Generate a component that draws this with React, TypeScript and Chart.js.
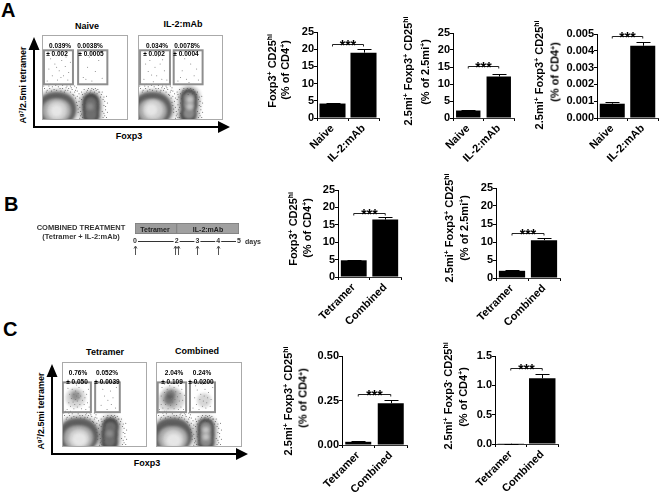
import React, { useEffect, useRef } from "react";
import { Chart, registerables } from "chart.js";

Chart.register(...registerables);

const FONT = '"Liberation Sans", Arial, sans-serif';

// ---------- bar chart data ----------
const naiveGroups = ["Naive", "IL-2:mAb"];
const tetramerGroups = ["Tetramer", "Combined"];

const foxp3Cd4Values = [4.2, 19];
const foxp3Cd4Errors = [0.2, 1];
const tetFoxp3PctTetValues = [2.2, 12.2];
const tetFoxp3PctTetErrors = [0.2, 0.7];
const tetFoxp3PctCd4Values = [0.00085, 0.0043];
const tetFoxp3PctCd4Errors = [0.0001, 0.00025];
const combFoxp3Values = [4.8, 16.5];
const combFoxp3Errors = [0.15, 0.6];
const combTetValues = [2, 10.5];
const combTetErrors = [0.2, 0.5];
const combTetCd4Values = [0.018, 0.235];
const combTetCd4Errors = [0.002, 0.018];
const combTetNegValues = [0.005, 1.12];
const combTetNegErrors = [0.002, 0.08];

// ---------- timeline data ----------
const tetramerPhase = [0, 2];
const il2Phase = [2, 5];
const timelineDays = [0, 2, 3, 4, 5];
const doseDays = [0, 1.92, 2.08, 3, 4];

// ---------- flow plot data (percent of the plot's box) ----------
const lowSpeckle = [
  [3, 37], [8, 40], [14, 36], [19, 39], [24, 37], [29, 40], [35, 36], [38, 33], [41, 28], [43, 22], [44, 15], [42, 9],
  [45, 5], [41, 34], [47, 30], [49, 36], [52, 33], [57, 35], [61, 33], [65, 36], [69, 30], [71, 24], [72, 17], [70, 10],
  [73, 5], [75, 28], [46, 24], [48, 12], [6, 35], [11, 34], [22, 34], [27, 35], [33, 33], [54, 37], [59, 30], [67, 33],
  [40, 38], [31, 37], [16, 41], [36, 30], [43, 31], [74, 12], [76, 20], [47, 18], [45, 10], [2, 40], [62, 37], [55, 31],
  [5, 33], [9, 37], [12, 39], [17, 35], [21, 37], [26, 33], [30, 35], [34, 38], [37, 29], [39, 26], [40, 21], [41, 17],
  [42, 13], [39, 35], [44, 26], [46, 33], [48, 27], [50, 31], [51, 25], [50, 20], [49, 15], [50, 8], [47, 3], [44, 2],
  [53, 35], [56, 33], [60, 36], [63, 35], [66, 33], [68, 27], [70, 33], [72, 27], [73, 22], [74, 16], [72, 8], [71, 3],
  [38, 40], [24, 41], [10, 42], [28, 38], [33, 40], [64, 31], [58, 37], [4, 42], [76, 9], [75, 3], [49, 3], [46, 7],
];

const naiveLeftHalo = [[13, 13], [21, 13]];
const naiveLeftDark = [[13, 12], [20, 12]];
const naiveLeftMid = [[14, 11], [20, 11]];
const naiveLeftLight = [[16, 11], [19, 11]];
const naiveLeftCore = [[17, 11]];
const naiveRightDark = [[57, 22], [57, 14], [57, 5]];
const naiveRightMid = [[57, 20], [57, 13], [57, 6]];
const naiveRightCore = [[56, 16]];
const naiveGate1Events = [[8, 60], [12, 52], [15, 66], [18, 47], [20, 58], [23, 70], [25, 52], [27, 63], [30, 47], [31, 56], [10, 72], [22, 50], [17, 62], [6, 46], [33, 68], [28, 74]];
const naiveGate2Events = [[48, 50], [53, 62], [58, 46], [62, 57], [66, 70], [70, 49], [55, 74], [51, 48]];

const il2LeftHalo = [[13, 13], [21, 13]];
const il2LeftDark = [[13, 12], [20, 12]];
const il2LeftMid = [[14, 11], [20, 11]];
const il2LeftLight = [[16, 12], [19, 12]];
const il2LeftCore = [[16, 12]];
const il2RightDark = [[60, 27], [60, 18], [59, 6]];
const il2RightMid = [[60, 26], [60, 18], [60, 8]];
const il2RightCore = [[61, 24], [61, 16]];
const il2Gate1Events = [[7, 48], [12, 57], [14, 70], [18, 45], [20, 62], [22, 52], [26, 66], [28, 48], [31, 58], [9, 66], [24, 75], [16, 53], [34, 47], [29, 71]];
const il2Gate2Events = [[47, 46], [52, 58], [57, 48], [62, 66], [66, 52], [71, 47], [55, 72], [69, 60], [60, 44], [50, 50]];

const tetLeftHalo = [[15, 14], [24, 14]];
const tetLeftDark = [[15, 13], [23, 13]];
const tetLeftMid = [[16, 11], [23, 11]];
const tetLeftLight = [[18, 10], [22, 10]];
const tetLeftCore = [[19, 9], [22, 9]];
const tetRightDark = [[57, 25], [56, 15], [56, 5]];
const tetRightMid = [[57, 23], [56, 15], [56, 7]];
const tetRightCore = [[56, 16]];
const tetGate1Cloud = [[16, 58]];
const tetGate1Core = [[16, 60]];
const tetGate1Events = [
  [6, 44], [8, 52], [9, 62], [10, 48], [11, 57], [12, 68], [13, 53], [14, 45], [14, 62], [15, 50], [16, 56], [16, 66],
  [17, 60], [18, 47], [18, 54], [19, 63], [20, 58], [20, 70], [21, 50], [22, 60], [23, 45], [24, 55], [25, 65], [26, 50],
  [27, 58], [28, 44], [29, 62], [30, 52], [31, 68], [17, 73], [7, 69], [32, 47],
];
const tetGate2Events = [[46, 49], [50, 60], [53, 44], [54, 55], [57, 66], [58, 50], [60, 58], [63, 46], [64, 70], [48, 68]];

const combLeftHalo = [[15, 14], [23, 14]];
const combLeftDark = [[15, 13], [23, 13]];
const combLeftMid = [[16, 10], [23, 10]];
const combLeftLight = [[18, 9], [22, 9]];
const combLeftCore = [[19, 8], [22, 8]];
const combRightDark = [[58, 24], [58, 15], [58, 5]];
const combRightMid = [[58, 23], [58, 15], [58, 7]];
const combRightCore = [[58, 20], [58, 12]];
const combGate1Cloud = [[17, 60], [13, 54], [22, 56]];
const combGate1Core = [[17, 62], [15, 56]];
const combGate2Cloud = [[56, 55]];
const combGate1Events = [
  [4, 44], [6, 50], [6, 60], [7, 70], [8, 46], [9, 55], [10, 64], [10, 74], [11, 50], [12, 59], [13, 68], [14, 45],
  [14, 54], [15, 62], [16, 72], [17, 49], [18, 57], [18, 66], [19, 53], [20, 61], [21, 45], [21, 70], [22, 56], [23, 65],
  [24, 50], [25, 59], [26, 44], [26, 72], [27, 54], [28, 63], [29, 47], [30, 68], [31, 55], [32, 44], [33, 61], [12, 42],
];
const combGate2Events = [
  [43, 46], [45, 58], [47, 50], [48, 67], [50, 44], [51, 56], [52, 62], [54, 48], [55, 54], [56, 60], [57, 68], [58, 46],
  [59, 52], [60, 58], [61, 64], [63, 48], [64, 56], [66, 70], [46, 72], [54, 74],
];

const gatesA1 = [[2.3, 42, 36, 82], [42, 42, 76, 82]];
const gatesA2 = [[2.4, 42, 37.6, 82], [42, 42, 76, 82]];
const gatesC1 = [[1, 41, 34, 76], [39, 41, 68, 76]];
const gatesC2 = [[2, 41, 35, 76], [39.5, 41, 68.6, 76]];

type Pt = number[];

function useChart(make: () => any) {
  const ref = useRef<HTMLCanvasElement>(null);
  useEffect(() => {
    const c = new Chart(ref.current as HTMLCanvasElement, make());
    return () => c.destroy();
  }, []);
  return ref;
}

function BarPanel(p: {
  labels: string[]; values: number[]; errors: number[]; bracket: number; max: number; step: number; decimals: number;
  x0: number; x1: number; yTop: number; yBottom: number; barFrac: number;
}) {
  const leftPad = 46, topPad = 10, bottomH = 62, rightPad = 2;
  const ref = useChart(() => {
    const overlay = {
      id: "marks",
      afterDatasetsDraw(chart: any) {
        const { ctx, scales } = chart;
        const xs = scales.x, ys = scales.y;
        ctx.save();
        ctx.strokeStyle = "#000";
        ctx.lineWidth = 1;
        p.values.forEach((v, i) => {
          const cx = Math.round(xs.getPixelForValue(i)) + 0.5;
          const top = Math.round(ys.getPixelForValue(v + p.errors[i])) + 0.5;
          ctx.beginPath();
          ctx.moveTo(cx, ys.getPixelForValue(v));
          ctx.lineTo(cx, top);
          ctx.moveTo(cx - 7, top);
          ctx.lineTo(cx + 7, top);
          ctx.stroke();
        });
        const by = Math.round(ys.getPixelForValue(p.bracket)) + 0.5;
        const bx0 = xs.getPixelForValue(0), bx1 = xs.getPixelForValue(1);
        ctx.strokeStyle = "#222";
        ctx.beginPath();
        ctx.moveTo(bx0, by + 2);
        ctx.lineTo(bx0, by);
        ctx.lineTo(bx1, by);
        ctx.lineTo(bx1, by + 2);
        ctx.stroke();
        ctx.fillStyle = "#000";
        ctx.font = `bold 14px ${FONT}`;
        ctx.textAlign = "center";
        ctx.textBaseline = "alphabetic";
        ctx.fillText("***", (bx0 + bx1) / 2, by + 5);
        ctx.restore();
      },
    };
    const tickFont = { family: FONT, size: 11, weight: "bold" };
    const fixPad = (s: any) => { s.paddingLeft = 0; s.paddingRight = 0; s.paddingTop = 0; s.paddingBottom = 0; };
    return {
      type: "bar",
      data: {
        labels: p.labels,
        datasets: [{ data: p.values, backgroundColor: "#000", barPercentage: p.barFrac, categoryPercentage: 1 }],
      },
      options: {
        responsive: false,
        animation: false,
        devicePixelRatio: 1,
        layout: { padding: { top: topPad, right: rightPad, left: 0, bottom: 0 } },
        plugins: { legend: { display: false }, tooltip: { enabled: false } },
        scales: {
          x: {
            grid: { drawOnChartArea: false, drawTicks: true, tickLength: 3, color: "#000" },
            border: { color: "#333", width: 1 },
            ticks: { color: "#000", font: tickFont, minRotation: 45, maxRotation: 45, autoSkip: false, padding: 1 },
            afterFit(s: any) { s.height = bottomH; fixPad(s); },
          },
          y: {
            min: 0,
            max: p.max,
            grid: { drawOnChartArea: false, drawTicks: true, tickLength: 3, color: "#000" },
            border: { color: "#000", width: 1 },
            ticks: {
              color: "#000", font: tickFont, stepSize: p.step, padding: 0,
              callback: (v: number) => Number(v).toFixed(p.decimals),
            },
            afterFit(s: any) { s.width = leftPad; fixPad(s); },
          },
        },
      },
      plugins: [overlay],
    };
  });
  const w = leftPad + (p.x1 - p.x0) + rightPad;
  const h = topPad + (p.yBottom - p.yTop) + bottomH;
  return (
    <canvas ref={ref} width={w} height={h}
      style={{ position: "absolute", left: p.x0 - leftPad, top: p.yTop - topPad, width: w, height: h }} />
  );
}

function FlowPlot(p: {
  left: number; top: number; w: number; h: number; brightRight?: boolean;
  leftLayers: Pt[][]; rightLayers: Pt[][]; clouds: Pt[][]; events: Pt[]; gates: number[][];
}) {
  const ref = useChart(() => {
    const dot = (data: Pt[], r: number, c: string) => ({
      data, pointRadius: r, backgroundColor: c, borderWidth: 0, pointBorderWidth: 0, clip: 0,
    });
    const leftR = [6, 9, 12, 15, 16.5];
    const leftC = ["#e6e6e6", "#d0d0d0", "#a8a8a8", "#5c5c5c", "#6a6a6a"];
    const rightR = [3.5, 6, 8.5];
    const rightC = p.brightRight ? ["#c4c4c4", "#8a8a8a", "#444"] : ["#8c8c8c", "#6e6e6e", "#444"];
    const deco = {
      id: "deco",
      beforeDatasetDraw(chart: any, args: any) {
        // the single-event dots (datasets 0 and 1) stay sharp, the density layers are soft
        chart.ctx.filter = args.index < 2 ? "none" : "blur(1.5px)";
      },
      afterDatasetDraw(chart: any) { chart.ctx.filter = "none"; },
      afterDraw(chart: any) {
        const { ctx, scales } = chart;
        ctx.save();
        ctx.strokeStyle = "#aaaaaa";
        ctx.lineWidth = 1;
        ctx.strokeRect(0.5, 0.5, p.w - 1, p.h - 1);
        ctx.strokeStyle = "#8e8e8e";
        ctx.lineWidth = 2;
        p.gates.forEach((g) => {
          const x0 = scales.x.getPixelForValue(g[0]), x1 = scales.x.getPixelForValue(g[2]);
          const y0 = scales.y.getPixelForValue(g[3]), y1 = scales.y.getPixelForValue(g[1]);
          ctx.strokeRect(x0, y0, x1 - x0, y1 - y0);
        });
        ctx.restore();
      },
    };
    return {
      type: "scatter",
      data: {
        datasets: [
          dot(p.events, 0.5, "#777"),
          dot(lowSpeckle, 0.5, "#555"),
          dot(p.clouds[1] || [], 5, "rgba(60,60,60,0.45)"),
          dot(p.clouds[0] || [], 10, "rgba(120,120,120,0.3)"),
          dot(p.clouds[2] || [], 7, "rgba(120,120,120,0.3)"),
          ...p.rightLayers.map((d, i) => dot(d, rightR[i], rightC[i])),
          ...p.leftLayers.map((d, i) => dot(d, leftR[i], leftC[i])),
          dot(p.rightLayers[2], 12, "rgba(120,120,120,0.3)"),
          dot(p.leftLayers[4], 20, "rgba(120,120,120,0.3)"),
        ],
      },
      options: {
        responsive: false,
        animation: false,
        devicePixelRatio: 1,
        layout: { padding: 0, autoPadding: false },
        plugins: { legend: { display: false }, tooltip: { enabled: false } },
        scales: {
          x: { type: "linear", min: 0, max: 100, display: false },
          y: { type: "linear", min: 0, max: 100, display: false },
        },
      },
      plugins: [deco],
    };
  });
  return (
    <canvas ref={ref} width={p.w} height={p.h}
      style={{ position: "absolute", left: p.left, top: p.top, width: p.w, height: p.h }} />
  );
}

function Timeline() {
  const ref = useChart(() => {
    const deco = {
      id: "timeline",
      afterDatasetsDraw(chart: any) {
        const { ctx, scales, chartArea } = chart;
        const xs = scales.x;
        const ly = chartArea.bottom + 7.5;
        ctx.save();
        ctx.strokeStyle = "#333";
        ctx.lineWidth = 1;
        ctx.beginPath();
        ctx.moveTo(xs.getPixelForValue(0), ly);
        ctx.lineTo(xs.getPixelForValue(5), ly);
        ctx.stroke();
        ctx.font = `bold 7px ${FONT}`;
        ctx.textAlign = "center";
        ctx.textBaseline = "middle";
        timelineDays.forEach((d) => {
          const x = xs.getPixelForValue(d);
          ctx.fillStyle = "#fff";
          ctx.fillRect(x - 3, ly - 4, 6, 8);
          ctx.fillStyle = "#333";
          ctx.fillText(String(d), x, ly);
        });
        ctx.strokeStyle = "#555";
        doseDays.forEach((d) => {
          const x = Math.round(xs.getPixelForValue(d)) + 0.5;
          const t = chartArea.bottom + 12;
          ctx.beginPath();
          ctx.moveTo(x, t + 9);
          ctx.lineTo(x, t);
          ctx.moveTo(x - 1.5, t + 2.5);
          ctx.lineTo(x, t);
          ctx.lineTo(x + 1.5, t + 2.5);
          ctx.stroke();
        });
        ctx.restore();
      },
    };
    return {
      type: "bar",
      data: {
        labels: ["Treatment"],
        datasets: [
          { data: [tetramerPhase], backgroundColor: "#9c9c9c", borderColor: "#7d7d7d", borderWidth: 1, grouped: false, barPercentage: 1, categoryPercentage: 1, borderSkipped: false },
          { data: [il2Phase], backgroundColor: "#a0a0a0", borderColor: "#7d7d7d", borderWidth: 1, grouped: false, barPercentage: 1, categoryPercentage: 1, borderSkipped: false },
        ],
      },
      options: {
        indexAxis: "y",
        responsive: false,
        animation: false,
        devicePixelRatio: 1,
        layout: { padding: { left: 10, right: 11, top: 8, bottom: 26 } },
        plugins: { legend: { display: false }, tooltip: { enabled: false } },
        scales: {
          x: { type: "linear", min: 0, max: 5, display: false },
          y: { display: false },
        },
      },
      plugins: [deco],
    };
  });
  return <canvas ref={ref} width={125} height={45} style={{ position: "absolute", left: 125, top: 215, width: 125, height: 45 }} />;
}

const Txt = (p: { x: number; y: number; size?: number; color?: string; children: React.ReactNode; rot?: boolean; weight?: string }) => (
  <div style={{
    position: "absolute", left: p.x, top: p.y, whiteSpace: "nowrap", fontFamily: FONT, fontWeight: (p.weight || "bold") as any,
    fontSize: p.size || 11, color: p.color || "#000", lineHeight: 1,
    transform: `translate(-50%,-50%)${p.rot ? " rotate(-90deg)" : ""}`,
  }}>{p.children}</div>
);
const Sup = (p: { children: React.ReactNode }) => <sup style={{ fontSize: "0.62em", lineHeight: 0, verticalAlign: "0.5em" }}>{p.children}</sup>;
const Letter = (p: { x: number; y: number; children: string }) => (
  <div style={{ position: "absolute", left: p.x, top: p.y, transform: "translateY(-50%)", fontFamily: FONT, fontWeight: "bold", fontSize: 20, lineHeight: 1 }}>{p.children}</div>
);
const TetLine = (p: { neg?: boolean }) => <>2.5mi<Sup>+</Sup> Foxp3<Sup>{p.neg ? "-" : "+"}</Sup> CD25<Sup>hi</Sup></>;
const FoxLine = () => <>Foxp3<Sup>+</Sup> CD25<Sup>hi</Sup></>;
const Cd4Line = () => <>(% of CD4<Sup>+</Sup>)</>;
const TetPct = () => <>(% of 2.5mi<Sup>+</Sup>)</>;

export default function App() {
  return (
    <div style={{ position: "absolute", left: 0, top: 0, width: 660, height: 492, background: "#fff", overflow: "hidden", filter: "blur(0.3px)" }}>
      <Letter x={1} y={10}>A</Letter>
      <Letter x={4} y={204}>B</Letter>
      <Letter x={3} y={329}>C</Letter>

      {/* Panel A flow */}
      <FlowPlot left={42} top={35} w={86} h={85} gates={gatesA1}
        leftLayers={[naiveLeftCore, naiveLeftLight, naiveLeftMid, naiveLeftDark, naiveLeftHalo]}
        rightLayers={[naiveRightCore, naiveRightMid, naiveRightDark]} clouds={[]}
        events={[...naiveGate1Events, ...naiveGate2Events]} />
      <FlowPlot left={138} top={35} w={85} h={85} gates={gatesA2} brightRight
        leftLayers={[il2LeftCore, il2LeftLight, il2LeftMid, il2LeftDark, il2LeftHalo]}
        rightLayers={[il2RightCore, il2RightMid, il2RightDark]} clouds={[]}
        events={[...il2Gate1Events, ...il2Gate2Events]} />
      <Txt x={87} y={26} size={9}>Naive</Txt>
      <Txt x={183} y={24} size={9}>IL-2:mAb</Txt>
      <Txt x={129} y={136} size={9}>Foxp3</Txt>
      <Txt x={23} y={85} size={9} rot>A<Sup>g7</Sup>/2.5mi tetramer</Txt>
      <Txt x={60} y={46} size={6.5}>0.039%</Txt>
      <Txt x={57} y={54} size={6.5}>± 0.002</Txt>
      <Txt x={90} y={46} size={6.5}>0.0038%</Txt>
      <Txt x={91} y={54} size={6.5}>± 0.0005</Txt>
      <Txt x={157} y={46} size={6.5}>0.034%</Txt>
      <Txt x={154} y={54} size={6.5}>± 0.002</Txt>
      <Txt x={187} y={46} size={6.5}>0.0078%</Txt>
      <Txt x={186} y={54} size={6.5}>± 0.0004</Txt>

      {/* Panel C flow */}
      <FlowPlot left={62} top={362} w={85} h={85} gates={gatesC1}
        leftLayers={[tetLeftCore, tetLeftLight, tetLeftMid, tetLeftDark, tetLeftHalo]}
        rightLayers={[tetRightCore, tetRightMid, tetRightDark]} clouds={[tetGate1Cloud, tetGate1Core]}
        events={[...tetGate1Events, ...tetGate2Events]} />
      <FlowPlot left={156} top={362} w={86} h={85} gates={gatesC2} brightRight
        leftLayers={[combLeftCore, combLeftLight, combLeftMid, combLeftDark, combLeftHalo]}
        rightLayers={[combRightCore, combRightMid, combRightDark]} clouds={[combGate1Cloud, combGate1Core, combGate2Cloud]}
        events={[...combGate1Events, ...combGate2Events]} />
      <Txt x={105} y={352} size={9}>Tetramer</Txt>
      <Txt x={197} y={351} size={9}>Combined</Txt>
      <Txt x={147} y={463} size={9}>Foxp3</Txt>
      <Txt x={41} y={411} size={9} rot>A<Sup>g7</Sup>/2.5mi tetramer</Txt>
      <Txt x={78} y={373} size={6.5}>0.76%</Txt>
      <Txt x={77} y={382} size={6.5}>± 0.050</Txt>
      <Txt x={107} y={373} size={6.5}>0.052%</Txt>
      <Txt x={107} y={382} size={6.5}>± 0.0039</Txt>
      <Txt x={174} y={373} size={6.5}>2.04%</Txt>
      <Txt x={172} y={382} size={6.5}>± 0.109</Txt>
      <Txt x={202} y={373} size={6.5}>0.24%</Txt>
      <Txt x={201} y={382} size={6.5}>± 0.0200</Txt>

      {/* axis arrows */}
      <svg width={660} height={492} style={{ position: "absolute", left: 0, top: 0, pointerEvents: "none" }}>
        <path d="M34 127V48M33 127H220" stroke="#000" strokeWidth={2} fill="none" />
        <path d="M34 37L28.5 50H39.5Z M230 127L218 121V133Z" fill="#000" />
        <path d="M52 454V375M51 454H238" stroke="#000" strokeWidth={2} fill="none" />
        <path d="M52 364L46.5 377H57.5Z M248 454L236 448V460Z" fill="#000" />
      </svg>

      {/* Panel A bars */}
      <BarPanel labels={naiveGroups} values={foxp3Cd4Values} errors={foxp3Cd4Errors} bracket={21.5} max={25} step={5} decimals={0}
        x0={317} x1={379} yTop={32} yBottom={118} barFrac={0.84} />
      <Txt x={272} y={71} rot><FoxLine /></Txt>
      <Txt x={285} y={70} rot><Cd4Line /></Txt>

      <BarPanel labels={naiveGroups} values={tetFoxp3PctTetValues} errors={tetFoxp3PctTetErrors} bracket={15.3} max={25} step={5} decimals={0}
        x0={453} x1={514} yTop={33} yBottom={118} barFrac={0.8} />
      <Txt x={408} y={71} rot><TetLine /></Txt>
      <Txt x={425} y={72} rot><TetPct /></Txt>

      <BarPanel labels={naiveGroups} values={tetFoxp3PctCd4Values} errors={tetFoxp3PctCd4Errors} bracket={0.00488} max={0.005} step={0.001} decimals={3}
        x0={597} x1={658} yTop={34} yBottom={118} barFrac={0.82} />
      <Txt x={539} y={75} rot><TetLine /></Txt>
      <Txt x={555} y={72} rot><Cd4Line /></Txt>

      {/* Panel B */}
      <Txt x={81} y={228} size={7.5} color="#333">COMBINED TREATMENT</Txt>
      <Txt x={81} y={237} size={7.5} color="#333">(Tetramer + IL-2:mAb)</Txt>
      <Timeline />
      <Txt x={155} y={229} size={7} color="#222">Tetramer</Txt>
      <Txt x={208} y={229} size={7} color="#222">IL-2:mAb</Txt>
      <Txt x={253} y={241} size={7} color="#333">days</Txt>

      <BarPanel labels={tetramerGroups} values={combFoxp3Values} errors={combFoxp3Errors} bracket={18.4} max={25} step={5} decimals={0}
        x0={338} x1={401} yTop={190} yBottom={277} barFrac={0.82} />
      <Txt x={293} y={229} rot><FoxLine /></Txt>
      <Txt x={307} y={228} rot><Cd4Line /></Txt>

      <BarPanel labels={tetramerGroups} values={combTetValues} errors={combTetErrors} bracket={12.5} max={25} step={5} decimals={0}
        x0={496} x1={560} yTop={188} yBottom={278} barFrac={0.82} />
      <Txt x={449} y={228} rot><TetLine /></Txt>
      <Txt x={464} y={228} rot><TetPct /></Txt>

      {/* Panel C bars */}
      <BarPanel labels={tetramerGroups} values={combTetCd4Values} errors={combTetCd4Errors} bracket={0.287} max={0.5} step={0.25} decimals={2}
        x0={342} x1={407} yTop={356} yBottom={445} barFrac={0.8} />
      <Txt x={288} y={401} rot><TetLine /></Txt>
      <Txt x={303} y={398} rot><Cd4Line /></Txt>

      <BarPanel labels={tetramerGroups} values={combTetNegValues} errors={combTetNegErrors} bracket={1.295} max={1.5} step={0.5} decimals={1}
        x0={495} x1={558} yTop={356} yBottom={444} barFrac={0.84} />
      <Txt x={448} y={396} rot><TetLine neg /></Txt>
      <Txt x={463} y={397} rot><Cd4Line /></Txt>
    </div>
  );
}
